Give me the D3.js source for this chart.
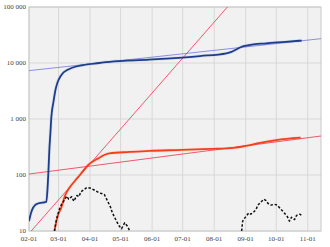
<!DOCTYPE html>
<html>
<head>
<meta charset="utf-8">
<script src="https://cdn.jsdelivr.net/npm/d3@7"></script>
<style>
  body { margin: 0; background: #fff; }
  svg text { font-family: "Liberation Serif", "DejaVu Serif", serif; font-size: 7px; fill: #444; }
</style>
</head>
<body>
<svg id="chart" width="330" height="247"></svg>
<script>
// tick labels
var yTicks = [10, 100, 1000, 10000, 100000];
var xTicks = ["2020-02-01", "2020-03-01", "2020-04-01", "2020-05-01", "2020-06-01", "2020-07-01",
              "2020-08-01", "2020-09-01", "2020-10-01", "2020-11-01"];

// cumulative cases (thick blue)
var cases = [
  ["2020-02-01", 15], ["2020-02-03", 21], ["2020-02-05", 26], ["2020-02-07", 29], ["2020-02-10", 31],
  ["2020-02-14", 32], ["2020-02-18", 33], ["2020-02-19", 50], ["2020-02-20", 107], ["2020-02-21", 280],
  ["2020-02-22", 550], ["2020-02-23", 1100], ["2020-02-25", 2000], ["2020-02-27", 3300], ["2020-02-29", 4500],
  ["2020-03-03", 5800], ["2020-03-06", 6800], ["2020-03-09", 7400], ["2020-03-15", 8300], ["2020-03-25", 9200],
  ["2020-04-10", 10000], ["2020-04-20", 10500], ["2020-05-29", 11500], ["2020-07-18", 13300],
  ["2020-08-13", 14900], ["2020-08-18", 15800], ["2020-08-23", 17600], ["2020-08-28", 19500],
  ["2020-09-03", 20700], ["2020-09-21", 22500], ["2020-10-10", 23800], ["2020-10-26", 25200]
];

// cumulative deaths (thick orange)
var deaths = [
  ["2020-02-26", 10], ["2020-02-29", 18], ["2020-03-04", 27], ["2020-03-07", 41], ["2020-03-12", 60],
  ["2020-03-17", 78], ["2020-03-22", 100], ["2020-03-30", 150], ["2020-04-09", 198], ["2020-04-15", 228],
  ["2020-04-20", 244], ["2020-05-10", 258], ["2020-05-29", 270], ["2020-06-30", 280], ["2020-07-28", 292],
  ["2020-08-20", 305], ["2020-09-01", 330], ["2020-09-15", 375], ["2020-10-01", 420], ["2020-10-25", 463]
];

// dashed black series
var dashedA = [
  ["2020-02-26", 10], ["2020-02-28", 16], ["2020-03-02", 25], ["2020-03-04", 30], ["2020-03-07", 36],
  ["2020-03-09", 42], ["2020-03-11", 37], ["2020-03-14", 41], ["2020-03-16", 34], ["2020-03-19", 43],
  ["2020-03-21", 41], ["2020-03-23", 50], ["2020-03-26", 55], ["2020-03-29", 60], ["2020-04-02", 58],
  ["2020-04-05", 54], ["2020-04-10", 48], ["2020-04-15", 45], ["2020-04-18", 35], ["2020-04-21", 27],
  ["2020-04-23", 21], ["2020-04-27", 15], ["2020-04-30", 12], ["2020-05-02", 11], ["2020-05-05", 14],
  ["2020-05-08", 12], ["2020-05-10", 10]
];
var dashedB = [
  ["2020-08-28", 10], ["2020-08-29", 15], ["2020-08-31", 17], ["2020-09-04", 21], ["2020-09-06", 20],
  ["2020-09-09", 22], ["2020-09-11", 24], ["2020-09-13", 29], ["2020-09-16", 33], ["2020-09-19", 37],
  ["2020-09-21", 35], ["2020-09-23", 31], ["2020-09-26", 29], ["2020-09-29", 30], ["2020-10-02", 29],
  ["2020-10-05", 25], ["2020-10-08", 22], ["2020-10-12", 18], ["2020-10-14", 15], ["2020-10-16", 17.6],
  ["2020-10-19", 16], ["2020-10-21", 19], ["2020-10-24", 20], ["2020-10-26", 19]
];

// exponential trend lines (thin)
var trendCases = [["2020-02-01", 7300], ["2020-11-14", 27200]];
var trendDeaths = [["2020-02-01", 104], ["2020-11-14", 497]];
var trendSteep = [["2020-02-01", 9], ["2020-08-14", 100000]];

var parse = d3.timeParse("%Y-%m-%d");

var svg = d3.select("#chart"),
    margin = {top: 7, right: 9, bottom: 16, left: 29},
    width = 330 - margin.left - margin.right,
    height = 247 - margin.top - margin.bottom;

var x = d3.scaleTime()
    .domain([parse("2020-02-01"), parse("2020-11-14")])
    .range([0, width]);

var y = d3.scaleLog()
    .domain([10, 100000])
    .range([height, 0]);

var g = svg.append("g")
    .attr("transform", "translate(" + margin.left + "," + margin.top + ")");

g.append("defs").append("clipPath")
    .attr("id", "clip")
  .append("rect")
    .attr("width", width)
    .attr("height", height);

g.append("rect")
    .attr("width", width)
    .attr("height", height)
    .attr("fill", "#f1f1f1");

// grid
g.append("g")
    .selectAll("line")
    .data(xTicks.map(parse))
    .enter().append("line")
    .attr("x1", function(d) { return x(d); })
    .attr("x2", function(d) { return x(d); })
    .attr("y1", 0)
    .attr("y2", height)
    .attr("stroke", "#d8d8d8")
    .attr("stroke-width", 1);

g.append("g")
    .selectAll("line")
    .data(yTicks)
    .enter().append("line")
    .attr("x1", 0)
    .attr("x2", width)
    .attr("y1", function(d) { return y(d); })
    .attr("y2", function(d) { return y(d); })
    .attr("stroke", "#d8d8d8")
    .attr("stroke-width", 1);

g.append("rect")
    .attr("width", width)
    .attr("height", height)
    .attr("fill", "none")
    .attr("stroke", "#c8c8c8");

var line = d3.line()
    .x(function(d) { return x(parse(d[0])); })
    .y(function(d) { return y(d[1]); });

var smooth = d3.line()
    .curve(d3.curveMonotoneX)
    .x(function(d) { return x(parse(d[0])); })
    .y(function(d) { return y(d[1]); });

var plot = g.append("g").attr("clip-path", "url(#clip)");

function drawLine(data, gen, color, w, dash, opacity) {
    plot.append("path")
        .datum(data)
        .attr("d", gen)
        .attr("fill", "none")
        .attr("stroke", color)
        .attr("stroke-width", w)
        .attr("stroke-opacity", opacity || 1)
        .attr("stroke-dasharray", dash || null)
        .attr("stroke-linejoin", "round");
}

// faint halos under the thick lines
drawLine(cases, smooth, "#a8bce8", 3.5, null, 0.25);
drawLine(deaths, smooth, "#ffbfae", 3.5, null, 0.3);

drawLine(trendCases, line, "#7474e0", 0.8);
drawLine(trendDeaths, line, "#f0304a", 0.8);
drawLine(trendSteep, line, "#f0304a", 0.8);

drawLine(cases, smooth, "#1c3d8c", 1.8);
drawLine(deaths, smooth, "#f2401c", 1.8);

drawLine(dashedA, line, "#111", 1.5, "2.5,1.8");
drawLine(dashedB, line, "#111", 1.5, "2.5,1.8");

// axis labels
var fmt = d3.format(",d");
g.append("g")
    .selectAll("text")
    .data(yTicks)
    .enter().append("text")
    .attr("x", -3)
    .attr("y", function(d) { return y(d); })
    .attr("dy", "0.33em")
    .attr("text-anchor", "end")
    .text(function(d) { return fmt(d).replace(/,/g, " "); });

var xfmt = d3.timeFormat("%m-%d");
g.append("g")
    .selectAll("text")
    .data(xTicks.map(parse))
    .enter().append("text")
    .attr("x", function(d) { return x(d); })
    .attr("y", height + 10)
    .attr("text-anchor", "middle")
    .text(function(d) { return xfmt(d); });
</script>
</body>
</html>
